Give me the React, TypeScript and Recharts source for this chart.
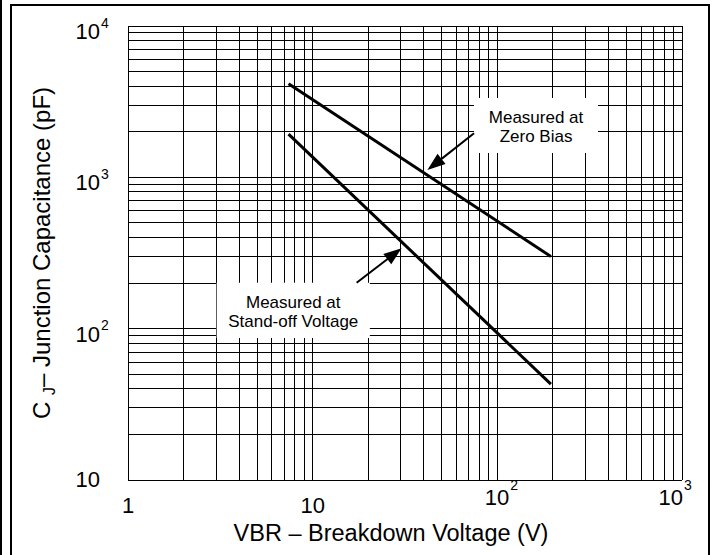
import React from "react";
import {
  LineChart,
  Line,
  XAxis,
  YAxis,
  CartesianGrid,
  ReferenceArea,
  ReferenceLine,
} from "recharts";

// breakdown voltage (V) at the two ends of the curves
const voltage = [7.4, 195];
// junction capacitance (pF)
const zeroBias = [4150, 300];
const standOff = [1930, 43];

// grid lines, one per 1..9 step of each decade
const xTicks = [
  1, 2, 3, 4, 5, 6, 7, 8, 9, 10, 20, 30, 40, 50, 60, 70, 80, 90, 100, 200, 300,
  400, 500, 600, 700, 800, 900, 1000,
];
const yTicks = [
  10, 20, 30, 40, 50, 60, 70, 80, 90, 100, 200, 300, 400, 500, 600, 700, 800,
  900, 1000, 2000, 3000, 4000, 5000, 6000, 7000, 8000, 9000, 10000,
];

const xMajor = [1, 10, 100, 1000];
const xMajorBase = ["1", "10", "10", "10"];
const xMajorExp = ["", "", "2", "3"];

const yMajor = [10, 100, 1000, 10000];
const yMajorBase = ["10", "10", "10", "10"];
const yMajorExp = ["", "2", "3", "4"];

// annotation boxes and arrows (data coordinates)
const zeroBiasBox = { x1: 74.8, x2: 351, y1: 1449, y2: 3342 };
const zeroBiasText = ["Measured at", "Zero Bias"];
const zeroBiasArrow = [
  { x: 74.8, y: 1954 },
  { x: 41.8, y: 1118 },
];
const standOffBox = { x1: 3.02, x2: 20.4, y1: 86.8, y2: 201 };
const standOffText = ["Measured at", "Stand-off Voltage"];
const standOffArrow = [
  { x: 17.3, y: 201 },
  { x: 30.3, y: 340 },
];

const data = voltage.map((v, i) => ({
  v,
  zero: zeroBias[i],
  standoff: standOff[i],
}));

const FONT = "'Liberation Sans', Arial, Helvetica, sans-serif";

const XTick = (props: any) => {
  const { x, y, payload } = props;
  const i = xMajor.indexOf(payload.value);
  if (i < 0) return null;
  const exp = xMajorExp[i];
  if (!exp) {
    return (
      <text x={x} y={y + 33} textAnchor="middle" fontSize={22} fontFamily={FONT} fill="#000">
        {xMajorBase[i]}
      </text>
    );
  }
  const last = i === xMajor.length - 1;
  const right = last ? x + 1 : x + 12;
  return (
    <g>
      <text x={right} y={y + 25} textAnchor="end" fontSize={22} fontFamily={FONT} fill="#000">
        {xMajorBase[i]}
      </text>
      <text x={right + 1} y={y + 10} textAnchor="start" fontSize={14} fontFamily={FONT} fill="#000">
        {exp}
      </text>
    </g>
  );
};

const YTick = (props: any) => {
  const { x, y, payload } = props;
  const i = yMajor.indexOf(payload.value);
  if (i < 0) return null;
  const exp = yMajorExp[i];
  const right = x - 28;
  return (
    <g>
      <text x={right} y={y + (exp ? 13 : 7)} textAnchor="end" fontSize={22} fontFamily={FONT} fill="#000">
        {yMajorBase[i]}
      </text>
      {exp && (
        <text x={right + 1} y={y + 1.5} textAnchor="start" fontSize={14} fontFamily={FONT} fill="#000">
          {exp}
        </text>
      )}
    </g>
  );
};

const YTitle = (props: any) => {
  const { viewBox } = props;
  const cx = viewBox.x + 50;
  const cy = viewBox.y + viewBox.height / 2;
  return (
    <text
      x={cx}
      y={cy}
      transform={`rotate(-90 ${cx} ${cy})`}
      textAnchor="middle"
      fontSize={24}
      fontFamily={FONT}
      fill="#000"
    >
      C <tspan fontSize={16} dy={5}>J</tspan>
      <tspan dy={-5}>– Junction Capacitance (pF)</tspan>
    </text>
  );
};

const XTitle = (props: any) => {
  const { viewBox } = props;
  return (
    <text
      x={viewBox.x + 263}
      y={viewBox.y + 60.5}
      textAnchor="middle"
      fontSize={23.5}
      fontFamily={FONT}
      fill="#000"
    >
      VBR – Breakdown Voltage (V)
    </text>
  );
};

const BoxLabel = (props: any) => {
  const { viewBox, lines } = props;
  const cx = viewBox.x + viewBox.width / 2;
  return (
    <g>
      {lines.map((t: string, k: number) => (
        <text
          key={k}
          x={cx}
          y={viewBox.y + 25 + k * 19.4}
          textAnchor="middle"
          fontSize={17}
          fontFamily={FONT}
          fill="#000"
        >
          {t}
        </text>
      ))}
    </g>
  );
};

const Arrow = (props: any) => {
  const { x1, y1, x2, y2 } = props;
  const dx = x2 - x1;
  const dy = y2 - y1;
  const len = Math.sqrt(dx * dx + dy * dy);
  const ux = dx / len;
  const uy = dy / len;
  const hl = 18;
  const hw = 6.5;
  const bx = x2 - ux * hl;
  const by = y2 - uy * hl;
  return (
    <g>
      <line x1={x1} y1={y1} x2={bx + ux * 2} y2={by + uy * 2} stroke="#000" strokeWidth={2} />
      <polygon
        points={`${x2},${y2} ${bx - uy * hw},${by + ux * hw} ${bx + uy * hw},${by - ux * hw}`}
        fill="#000"
      />
    </g>
  );
};

export default function App() {
  return (
    <div
      style={{
        position: "absolute",
        left: 0,
        top: 0,
        width: 717,
        height: 555,
        overflow: "hidden",
        background: "#fff",
      }}
    >
      <div style={{ position: "absolute", left: 0, top: 0, width: 2, height: 555, background: "#000" }} />
      <div
        style={{
          position: "absolute",
          left: 10,
          top: 4,
          width: 700,
          height: 620,
          border: "2px solid #000",
          boxSizing: "border-box",
        }}
      />
      <div style={{ position: "absolute", left: 0, top: 0 }}>
        <LineChart width={717} height={555} data={data} margin={{ top: 26, right: 35, bottom: 0, left: 0 }}>
          <CartesianGrid stroke="#000" strokeWidth={1} shapeRendering="crispEdges" />
          <XAxis
            dataKey="v"
            type="number"
            scale="log"
            domain={[1, 1000]}
            ticks={xTicks}
            interval={0}
            allowDataOverflow
            height={75}
            axisLine={false}
            tickLine={false}
            tickSize={0}
            tickMargin={0}
            tick={<XTick />}
            label={<XTitle />}
          />
          <YAxis
            type="number"
            scale="log"
            domain={[10, 10000]}
            ticks={yTicks}
            interval={0}
            allowDataOverflow
            width={128}
            axisLine={false}
            tickLine={false}
            tickSize={0}
            tickMargin={0}
            tick={<YTick />}
            label={<YTitle />}
          />
          <ReferenceArea {...zeroBiasBox} fill="#fff" fillOpacity={1} stroke="none" label={<BoxLabel lines={zeroBiasText} />} />
          <ReferenceArea {...standOffBox} fill="#fff" fillOpacity={1} stroke="none" label={<BoxLabel lines={standOffText} />} />
          <ReferenceLine segment={zeroBiasArrow} shape={(p: any) => <Arrow {...p} />} />
          <ReferenceLine segment={standOffArrow} shape={(p: any) => <Arrow {...p} />} />
          <Line dataKey="zero" stroke="#000" strokeWidth={3} dot={false} isAnimationActive={false} />
          <Line dataKey="standoff" stroke="#000" strokeWidth={3} dot={false} isAnimationActive={false} />
        </LineChart>
      </div>
    </div>
  );
}
